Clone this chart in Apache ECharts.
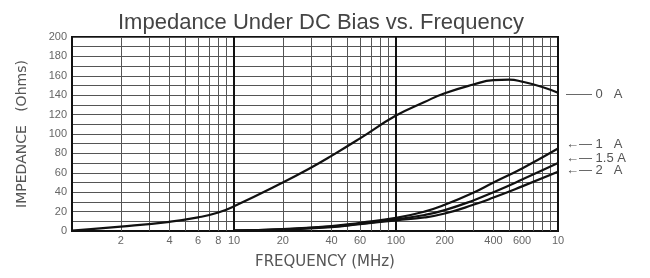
<!DOCTYPE html>
<html>
<head>
<meta charset="utf-8">
<script src="https://cdn.jsdelivr.net/npm/echarts@6/dist/echarts.min.js"></script>
<style>
  html, body { margin: 0; padding: 0; background: #fff; }
  #chart { width: 650px; height: 278px; }
</style>
</head>
<body>
<div id="chart"></div>
<script>
var myChart = echarts.init(document.getElementById('chart'), null, {renderer: 'canvas'});

// 0 A curve
var freq0 = [1, 2, 4, 6, 8, 10, 20, 30, 40, 60, 100, 150, 200, 300, 400, 500, 600, 800, 1000];
var imp0A = [0.5, 4.5, 9.5, 14, 19, 25.5, 50, 65.5, 77.5, 95.5, 119, 133, 142, 151, 155.5, 156, 154, 148.5, 142.5];

// curves under bias
var freqBias = [10, 20, 40, 60, 100, 150, 200, 300, 400, 600, 1000];
var imp1A = [0.5, 2, 5, 8.5, 13.5, 20, 27, 39.5, 50, 64.5, 85];
var imp15A = [0.5, 1.8, 4.5, 7.5, 12, 16.5, 21.5, 31.5, 40, 53, 70];
var imp2A = [0.5, 1.5, 4, 7, 11, 14, 18, 27, 34.5, 46, 61];

var curveNames = ['0   A', '1   A', '1.5 A', '2   A'];

// minor grid lines and tick labels on the frequency axis
var minorFreqs = [2, 3, 4, 5, 6, 7, 8, 9, 20, 30, 40, 50, 60, 70, 80, 90, 200, 300, 400, 500, 600, 700, 800, 900];
var xTickValues = [2, 4, 6, 8, 10, 20, 40, 60, 100, 200, 400, 600, 1000];
var xTickLabels = ['2', '4', '6', '8', '10', '20', '40', '60', '100', '200', '400', '600', '10'];

function pairs(xs, ys) {
    return xs.map(function (x, i) { return [x, ys[i]]; });
}

var fontFam = '"Liberation Sans", Arial, sans-serif';
var wideFam = '"DejaVu Sans", sans-serif';

var gridLines = minorFreqs.map(function (f) {
    return {xAxis: f, label: {show: false}};
});
var tickMarks = xTickValues.map(function (f, i) {
    return {
        xAxis: f,
        lineStyle: {color: 'rgba(0,0,0,0)'},
        label: {show: true, position: 'start', formatter: xTickLabels[i], distance: 4}
    };
});

function curve(name, xs, ys, labelOffset, first) {
    return {
        name: name,
        type: 'line',
        data: pairs(xs, ys),
        smooth: 0.5,
        symbol: 'none',
        lineStyle: {color: '#111', width: 2.2},
        z: 5,
        endLabel: {
            show: true,
            formatter: (first ? '—— ' : '←— ') + name,
            color: '#555',
            fontSize: 13,
            fontFamily: fontFam,
            distance: 8,
            offset: labelOffset
        }
    };
}

option = {
    animation: false,
    backgroundColor: '#fff',
    title: [{
        text: 'Impedance Under DC Bias vs. Frequency',
        left: 113,
        top: 7,
        textStyle: {fontSize: 22, fontWeight: 'normal', color: '#444', fontFamily: fontFam}
    }, {
        text: 'FREQUENCY (MHz)',
        left: 'center',
        top: 250,
        textStyle: {fontSize: 15, fontWeight: 'normal', color: '#555', fontFamily: wideFam}
    }],
    grid: {
        left: 72, right: 92, top: 37, bottom: 47,
        show: true, borderColor: '#111', borderWidth: 2
    },
    xAxis: {
        type: 'log',
        logBase: 10,
        min: 1,
        max: 1000,
        axisLine: {show: true, lineStyle: {color: '#111', width: 2}},
        axisTick: {show: false},
        axisLabel: {show: false},
        splitLine: {show: true, lineStyle: {color: '#111', width: 2}}
    },
    yAxis: {
        type: 'value',
        min: 0,
        max: 200,
        interval: 10,
        name: 'IMPEDANCE   (Ohms)',
        nameLocation: 'middle',
        nameGap: 43,
        nameTextStyle: {fontSize: 14, color: '#555', fontFamily: wideFam},
        axisLine: {show: true, lineStyle: {color: '#111', width: 2}},
        axisTick: {show: false},
        axisLabel: {
            color: '#666', fontSize: 11, fontFamily: fontFam, margin: 5,
            formatter: function (v) { return v % 20 === 0 ? v : ''; }
        },
        splitLine: {show: true, lineStyle: {color: '#555', width: 1}}
    },
    series: [
        {
            name: 'grid',
            type: 'line',
            data: [],
            markLine: {
                silent: true,
                symbol: 'none',
                animation: false,
                lineStyle: {color: '#555', width: 1, type: 'solid'},
                label: {color: '#666', fontSize: 11, fontFamily: fontFam},
                data: gridLines.concat(tickMarks)
            }
        },
        curve(curveNames[0], freq0, imp0A, [0, 2], true),
        curve(curveNames[1], freqBias, imp1A, [0, -4]),
        curve(curveNames[2], freqBias, imp15A, [0, -5]),
        curve(curveNames[3], freqBias, imp2A, [0, -1])
    ]
};

myChart.setOption(option);
</script>
</body>
</html>
